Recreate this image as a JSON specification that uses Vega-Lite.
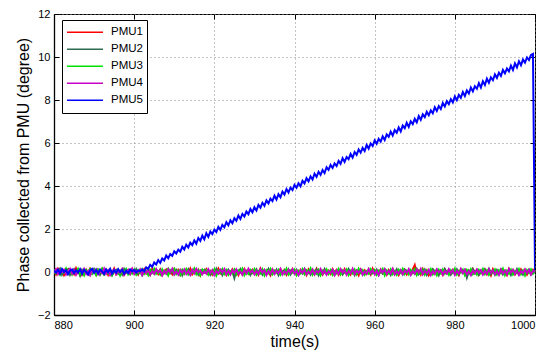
{
"$schema":"https://vega.github.io/schema/vega-lite/v6.json",
"width":481,"height":301,"autosize":"none",
"padding":{"left":54,"top":14,"right":16,"bottom":37},
"config":{"font":"Liberation Sans","view":{"stroke":"black","strokeWidth":1},
"axis":{"domainColor":"black","domainWidth":1.3,"tickColor":"black","tickSize":-5,"labelPadding":9,"labelFontSize":11,"labelColor":"black","titleFontSize":16,"titleFontWeight":"normal","titleColor":"black","gridColor":"#888","gridDash":[1,3],"gridOpacity":1},
"legend":{"orient":"none","legendX":8,"legendY":6,"strokeColor":"black","fillColor":"white","padding":4,"symbolType":"stroke","symbolSize":1296,"symbolStrokeWidth":1.5,"clipHeight":16.7,"rowPadding":0,"labelFontSize":11.5,"labelOffset":7,"labelColor":"black","title":null}},
"data":{"values":[
{"t":880,"PMU1":0.05,"PMU2":-0.08,"PMU3":0.12,"PMU4":-0.04,"PMU5":0.06},
{"t":880.5,"PMU1":-0.11,"PMU2":0.09,"PMU3":-0.06,"PMU4":0.13,"PMU5":-0.03},
{"t":881,"PMU1":0.14,"PMU2":-0.02,"PMU3":0.04,"PMU4":-0.10,"PMU5":0.11},
{"t":881.5,"PMU1":-0.03,"PMU2":0.15,"PMU3":-0.13,"PMU4":0.06,"PMU5":-0.07},
{"t":882,"PMU1":0.09,"PMU2":-0.12,"PMU3":0.10,"PMU4":-0.01,"PMU5":0.14},
{"t":882.5,"PMU1":-0.15,"PMU2":0.04,"PMU3":-0.02,"PMU4":0.11,"PMU5":0.00},
{"t":883,"PMU1":0.02,"PMU2":-0.06,"PMU3":0.16,"PMU4":-0.12,"PMU5":0.09},
{"t":883.5,"PMU1":0.12,"PMU2":0.11,"PMU3":-0.09,"PMU4":0.03,"PMU5":-0.10},
{"t":884,"PMU1":-0.07,"PMU2":-0.14,"PMU3":0.05,"PMU4":0.15,"PMU5":0.05},
{"t":884.5,"PMU1":0.06,"PMU2":0.02,"PMU3":-0.12,"PMU4":-0.07,"PMU5":0.12},
{"t":885,"PMU1":-0.10,"PMU2":0.13,"PMU3":0.08,"PMU4":0.09,"PMU5":-0.05},
{"t":885.5,"PMU1":0.17,"PMU2":-0.09,"PMU3":-0.04,"PMU4":-0.13,"PMU5":0.08},
{"t":886,"PMU1":-0.04,"PMU2":0.06,"PMU3":0.14,"PMU4":0.02,"PMU5":-0.02},
{"t":886.5,"PMU1":0.08,"PMU2":-0.17,"PMU3":-0.10,"PMU4":0.10,"PMU5":0.13},
{"t":887,"PMU1":-0.13,"PMU2":0.10,"PMU3":0.03,"PMU4":-0.06,"PMU5":-0.08},
{"t":887.5,"PMU1":0.03,"PMU2":-0.03,"PMU3":-0.15,"PMU4":0.14,"PMU5":0.10},
{"t":888,"PMU1":0.11,"PMU2":0.08,"PMU3":0.09,"PMU4":-0.09,"PMU5":0.01},
{"t":888.5,"PMU1":-0.08,"PMU2":-0.11,"PMU3":-0.01,"PMU4":0.05,"PMU5":-0.11},
{"t":889,"PMU1":0.15,"PMU2":0.05,"PMU3":0.13,"PMU4":-0.15,"PMU5":0.07},
{"t":889.5,"PMU1":-0.02,"PMU2":-0.07,"PMU3":-0.08,"PMU4":0.08,"PMU5":0.15},
{"t":890,"PMU1":0.07,"PMU2":0.14,"PMU3":0.06,"PMU4":-0.03,"PMU5":-0.04},
{"t":890.5,"PMU1":-0.12,"PMU2":-0.04,"PMU3":-0.14,"PMU4":0.12,"PMU5":0.09},
{"t":891,"PMU1":0.10,"PMU2":0.07,"PMU3":0.11,"PMU4":-0.11,"PMU5":-0.06},
{"t":891.5,"PMU1":-0.05,"PMU2":-0.13,"PMU3":-0.03,"PMU4":0.04,"PMU5":0.12},
{"t":892,"PMU1":0.13,"PMU2":0.03,"PMU3":0.15,"PMU4":-0.05,"PMU5":0.02},
{"t":892.5,"PMU1":-0.09,"PMU2":-0.10,"PMU3":-0.11,"PMU4":0.16,"PMU5":-0.09},
{"t":893,"PMU1":0.04,"PMU2":0.12,"PMU3":0.02,"PMU4":-0.08,"PMU5":0.11},
{"t":893.5,"PMU1":-0.14,"PMU2":-0.05,"PMU3":-0.07,"PMU4":0.07,"PMU5":-0.01},
{"t":894,"PMU1":0.08,"PMU2":0.09,"PMU3":0.12,"PMU4":-0.14,"PMU5":0.14},
{"t":894.5,"PMU1":-0.03,"PMU2":-0.15,"PMU3":-0.13,"PMU4":0.01,"PMU5":-0.07},
{"t":895,"PMU1":0.16,"PMU2":0.01,"PMU3":0.07,"PMU4":0.11,"PMU5":0.08},
{"t":895.5,"PMU1":-0.10,"PMU2":0.10,"PMU3":-0.05,"PMU4":-0.10,"PMU5":-0.03},
{"t":896,"PMU1":0.05,"PMU2":-0.08,"PMU3":0.10,"PMU4":0.06,"PMU5":0.13},
{"t":896.5,"PMU1":-0.06,"PMU2":0.06,"PMU3":-0.16,"PMU4":-0.04,"PMU5":0.00},
{"t":897,"PMU1":0.12,"PMU2":-0.12,"PMU3":0.04,"PMU4":0.13,"PMU5":0.10},
{"t":897.5,"PMU1":-0.13,"PMU2":0.14,"PMU3":-0.02,"PMU4":-0.12,"PMU5":-0.08},
{"t":898,"PMU1":0.01,"PMU2":-0.03,"PMU3":0.14,"PMU4":0.03,"PMU5":0.06},
{"t":898.5,"PMU1":0.10,"PMU2":0.08,"PMU3":-0.10,"PMU4":0.09,"PMU5":-0.05},
{"t":899,"PMU1":-0.08,"PMU2":-0.10,"PMU3":0.06,"PMU4":-0.06,"PMU5":0.12},
{"t":899.5,"PMU1":0.14,"PMU2":0.04,"PMU3":-0.07,"PMU4":0.14,"PMU5":0.03},
{"t":900,"PMU1":-0.04,"PMU2":-0.06,"PMU3":0.11,"PMU4":-0.09,"PMU5":0.09},
{"t":900.5,"PMU1":0.07,"PMU2":0.13,"PMU3":-0.12,"PMU4":0.05,"PMU5":-0.02},
{"t":901,"PMU1":-0.11,"PMU2":-0.09,"PMU3":0.08,"PMU4":-0.02,"PMU5":0.07},
{"t":901.5,"PMU1":0.09,"PMU2":0.02,"PMU3":-0.04,"PMU4":0.12,"PMU5":0.04},
{"t":902,"PMU1":-0.02,"PMU2":-0.14,"PMU3":0.13,"PMU4":-0.13,"PMU5":0.12},
{"t":902.5,"PMU1":0.13,"PMU2":0.07,"PMU3":-0.09,"PMU4":0.07,"PMU5":0.03},
{"t":903,"PMU1":-0.07,"PMU2":-0.04,"PMU3":0.05,"PMU4":-0.05,"PMU5":0.22},
{"t":903.5,"PMU1":0.04,"PMU2":0.11,"PMU3":-0.14,"PMU4":0.10,"PMU5":0.14},
{"t":904,"PMU1":-0.12,"PMU2":-0.12,"PMU3":0.10,"PMU4":-0.11,"PMU5":0.33},
{"t":904.5,"PMU1":0.15,"PMU2":0.05,"PMU3":-0.03,"PMU4":0.04,"PMU5":0.24},
{"t":905,"PMU1":-0.05,"PMU2":-0.07,"PMU3":0.15,"PMU4":-0.08,"PMU5":0.44},
{"t":905.5,"PMU1":0.08,"PMU2":0.12,"PMU3":-0.08,"PMU4":0.13,"PMU5":0.35},
{"t":906,"PMU1":-0.09,"PMU2":-0.02,"PMU3":0.03,"PMU4":-0.03,"PMU5":0.55},
{"t":906.5,"PMU1":0.11,"PMU2":0.09,"PMU3":-0.12,"PMU4":0.08,"PMU5":0.43},
{"t":907,"PMU1":-0.14,"PMU2":-0.13,"PMU3":0.12,"PMU4":-0.14,"PMU5":0.63},
{"t":907.5,"PMU1":0.02,"PMU2":0.03,"PMU3":-0.05,"PMU4":0.06,"PMU5":0.54},
{"t":908,"PMU1":0.12,"PMU2":-0.08,"PMU3":0.07,"PMU4":-0.07,"PMU5":0.77},
{"t":908.5,"PMU1":-0.06,"PMU2":0.14,"PMU3":-0.15,"PMU4":0.11,"PMU5":0.64},
{"t":909,"PMU1":0.06,"PMU2":-0.05,"PMU3":0.09,"PMU4":-0.01,"PMU5":0.83},
{"t":909.5,"PMU1":-0.10,"PMU2":0.06,"PMU3":-0.01,"PMU4":0.15,"PMU5":0.75},
{"t":910,"PMU1":0.14,"PMU2":-0.11,"PMU3":0.14,"PMU4":-0.10,"PMU5":0.96},
{"t":910.5,"PMU1":-0.03,"PMU2":0.10,"PMU3":-0.09,"PMU4":0.02,"PMU5":0.86},
{"t":911,"PMU1":0.09,"PMU2":-0.03,"PMU3":0.05,"PMU4":-0.12,"PMU5":1.04},
{"t":911.5,"PMU1":-0.13,"PMU2":0.08,"PMU3":-0.13,"PMU4":0.09,"PMU5":0.94},
{"t":912,"PMU1":0.05,"PMU2":-0.15,"PMU3":0.10,"PMU4":-0.04,"PMU5":1.17},
{"t":912.5,"PMU1":-0.08,"PMU2":0.04,"PMU3":-0.06,"PMU4":0.12,"PMU5":1.05},
{"t":913,"PMU1":0.11,"PMU2":-0.06,"PMU3":0.13,"PMU4":-0.09,"PMU5":1.27},
{"t":913.5,"PMU1":-0.04,"PMU2":0.12,"PMU3":-0.11,"PMU4":0.05,"PMU5":1.14},
{"t":914,"PMU1":0.16,"PMU2":-0.09,"PMU3":0.02,"PMU4":-0.13,"PMU5":1.36},
{"t":914.5,"PMU1":-0.11,"PMU2":0.07,"PMU3":-0.04,"PMU4":0.10,"PMU5":1.25},
{"t":915,"PMU1":0.03,"PMU2":-0.02,"PMU3":0.16,"PMU4":-0.06,"PMU5":1.47},
{"t":915.5,"PMU1":-0.06,"PMU2":0.13,"PMU3":-0.10,"PMU4":0.14,"PMU5":1.32},
{"t":916,"PMU1":0.10,"PMU2":-0.12,"PMU3":0.07,"PMU4":-0.02,"PMU5":1.58},
{"t":916.5,"PMU1":-0.15,"PMU2":0.05,"PMU3":-0.14,"PMU4":0.07,"PMU5":1.45},
{"t":917,"PMU1":0.07,"PMU2":-0.07,"PMU3":0.11,"PMU4":-0.11,"PMU5":1.69},
{"t":917.5,"PMU1":-0.02,"PMU2":0.10,"PMU3":-0.02,"PMU4":0.03,"PMU5":1.52},
{"t":918,"PMU1":0.13,"PMU2":-0.04,"PMU3":0.08,"PMU4":-0.08,"PMU5":1.80},
{"t":918.5,"PMU1":-0.09,"PMU2":0.09,"PMU3":-0.12,"PMU4":0.13,"PMU5":1.63},
{"t":919,"PMU1":0.04,"PMU2":-0.13,"PMU3":0.04,"PMU4":-0.05,"PMU5":1.88},
{"t":919.5,"PMU1":-0.12,"PMU2":0.03,"PMU3":-0.07,"PMU4":0.09,"PMU5":1.76},
{"t":920,"PMU1":0.08,"PMU2":-0.10,"PMU3":0.12,"PMU4":-0.14,"PMU5":1.97},
{"t":920.5,"PMU1":-0.05,"PMU2":0.15,"PMU3":-0.16,"PMU4":0.04,"PMU5":1.86},
{"t":921,"PMU1":0.15,"PMU2":-0.06,"PMU3":0.06,"PMU4":-0.07,"PMU5":2.10},
{"t":921.5,"PMU1":-0.07,"PMU2":0.08,"PMU3":-0.03,"PMU4":0.11,"PMU5":1.96},
{"t":922,"PMU1":0.02,"PMU2":-0.14,"PMU3":0.14,"PMU4":-0.03,"PMU5":2.19},
{"t":922.5,"PMU1":0.11,"PMU2":0.06,"PMU3":-0.09,"PMU4":0.14,"PMU5":2.08},
{"t":923,"PMU1":-0.13,"PMU2":-0.03,"PMU3":0.09,"PMU4":-0.10,"PMU5":2.32},
{"t":923.5,"PMU1":0.06,"PMU2":0.11,"PMU3":-0.13,"PMU4":0.06,"PMU5":2.17},
{"t":924,"PMU1":-0.04,"PMU2":-0.08,"PMU3":0.03,"PMU4":-0.12,"PMU5":2.40},
{"t":924.5,"PMU1":0.12,"PMU2":0.02,"PMU3":-0.06,"PMU4":0.08,"PMU5":2.27},
{"t":925,"PMU1":-0.09,"PMU2":-0.28,"PMU3":0.11,"PMU4":-0.04,"PMU5":2.50},
{"t":925.5,"PMU1":0.05,"PMU2":0.09,"PMU3":-0.11,"PMU4":0.12,"PMU5":2.38},
{"t":926,"PMU1":-0.14,"PMU2":-0.05,"PMU3":0.07,"PMU4":-0.09,"PMU5":2.63},
{"t":926.5,"PMU1":0.09,"PMU2":0.13,"PMU3":-0.02,"PMU4":0.02,"PMU5":2.47},
{"t":927,"PMU1":-0.02,"PMU2":-0.11,"PMU3":0.15,"PMU4":-0.13,"PMU5":2.70},
{"t":927.5,"PMU1":0.14,"PMU2":0.04,"PMU3":-0.14,"PMU4":0.10,"PMU5":2.58},
{"t":928,"PMU1":-0.08,"PMU2":-0.07,"PMU3":0.05,"PMU4":-0.06,"PMU5":2.81},
{"t":928.5,"PMU1":0.03,"PMU2":0.10,"PMU3":-0.08,"PMU4":0.15,"PMU5":2.69},
{"t":929,"PMU1":-0.11,"PMU2":-0.13,"PMU3":0.10,"PMU4":-0.02,"PMU5":2.93},
{"t":929.5,"PMU1":0.10,"PMU2":0.06,"PMU3":-0.04,"PMU4":0.07,"PMU5":2.78},
{"t":930,"PMU1":-0.06,"PMU2":-0.02,"PMU3":0.13,"PMU4":-0.11,"PMU5":3.01},
{"t":930.5,"PMU1":0.07,"PMU2":0.12,"PMU3":-0.12,"PMU4":0.05,"PMU5":2.86},
{"t":931,"PMU1":-0.12,"PMU2":-0.09,"PMU3":0.04,"PMU4":-0.08,"PMU5":3.12},
{"t":931.5,"PMU1":0.16,"PMU2":0.05,"PMU3":-0.07,"PMU4":0.13,"PMU5":2.99},
{"t":932,"PMU1":-0.03,"PMU2":-0.12,"PMU3":0.12,"PMU4":-0.03,"PMU5":3.22},
{"t":932.5,"PMU1":0.08,"PMU2":0.08,"PMU3":-0.15,"PMU4":0.09,"PMU5":3.08},
{"t":933,"PMU1":-0.10,"PMU2":-0.04,"PMU3":0.08,"PMU4":-0.14,"PMU5":3.33},
{"t":933.5,"PMU1":0.04,"PMU2":0.14,"PMU3":-0.05,"PMU4":0.04,"PMU5":3.19},
{"t":934,"PMU1":-0.15,"PMU2":-0.10,"PMU3":0.14,"PMU4":-0.07,"PMU5":3.41},
{"t":934.5,"PMU1":0.11,"PMU2":0.03,"PMU3":-0.10,"PMU4":0.11,"PMU5":3.30},
{"t":935,"PMU1":-0.05,"PMU2":-0.06,"PMU3":0.06,"PMU4":-0.10,"PMU5":3.55},
{"t":935.5,"PMU1":0.06,"PMU2":0.11,"PMU3":-0.03,"PMU4":0.06,"PMU5":3.37},
{"t":936,"PMU1":-0.09,"PMU2":-0.14,"PMU3":0.10,"PMU4":-0.05,"PMU5":3.62},
{"t":936.5,"PMU1":0.13,"PMU2":0.07,"PMU3":-0.13,"PMU4":0.14,"PMU5":3.48},
{"t":937,"PMU1":-0.01,"PMU2":-0.05,"PMU3":0.03,"PMU4":-0.12,"PMU5":3.74},
{"t":937.5,"PMU1":0.09,"PMU2":0.09,"PMU3":-0.08,"PMU4":0.03,"PMU5":3.60},
{"t":938,"PMU1":-0.13,"PMU2":-0.08,"PMU3":0.15,"PMU4":-0.08,"PMU5":3.86},
{"t":938.5,"PMU1":0.02,"PMU2":0.12,"PMU3":-0.11,"PMU4":0.10,"PMU5":3.70},
{"t":939,"PMU1":-0.07,"PMU2":-0.11,"PMU3":0.07,"PMU4":-0.03,"PMU5":3.92},
{"t":939.5,"PMU1":0.14,"PMU2":0.05,"PMU3":-0.02,"PMU4":0.12,"PMU5":3.81},
{"t":940,"PMU1":-0.04,"PMU2":-0.03,"PMU3":0.11,"PMU4":-0.09,"PMU5":4.05},
{"t":940.5,"PMU1":0.07,"PMU2":0.10,"PMU3":-0.14,"PMU4":0.06,"PMU5":3.92},
{"t":941,"PMU1":-0.11,"PMU2":-0.13,"PMU3":0.05,"PMU4":-0.13,"PMU5":4.13},
{"t":941.5,"PMU1":0.10,"PMU2":0.02,"PMU3":-0.06,"PMU4":0.08,"PMU5":3.99},
{"t":942,"PMU1":-0.06,"PMU2":-0.07,"PMU3":0.13,"PMU4":-0.04,"PMU5":4.24},
{"t":942.5,"PMU1":0.05,"PMU2":0.14,"PMU3":-0.10,"PMU4":0.13,"PMU5":4.12},
{"t":943,"PMU1":-0.14,"PMU2":-0.09,"PMU3":0.08,"PMU4":-0.10,"PMU5":4.36},
{"t":943.5,"PMU1":0.12,"PMU2":0.06,"PMU3":-0.04,"PMU4":0.02,"PMU5":4.22},
{"t":944,"PMU1":-0.02,"PMU2":-0.12,"PMU3":0.16,"PMU4":-0.07,"PMU5":4.45},
{"t":944.5,"PMU1":0.08,"PMU2":0.08,"PMU3":-0.12,"PMU4":0.11,"PMU5":4.30},
{"t":945,"PMU1":-0.10,"PMU2":-0.04,"PMU3":0.04,"PMU4":-0.11,"PMU5":4.57},
{"t":945.5,"PMU1":0.15,"PMU2":0.11,"PMU3":-0.08,"PMU4":0.05,"PMU5":4.43},
{"t":946,"PMU1":-0.05,"PMU2":-0.15,"PMU3":0.10,"PMU4":-0.02,"PMU5":4.66},
{"t":946.5,"PMU1":0.03,"PMU2":0.04,"PMU3":-0.15,"PMU4":0.14,"PMU5":4.52},
{"t":947,"PMU1":-0.12,"PMU2":-0.07,"PMU3":0.06,"PMU4":-0.08,"PMU5":4.74},
{"t":947.5,"PMU1":0.11,"PMU2":0.13,"PMU3":-0.03,"PMU4":0.07,"PMU5":4.60},
{"t":948,"PMU1":-0.07,"PMU2":-0.10,"PMU3":0.12,"PMU4":-0.12,"PMU5":4.87},
{"t":948.5,"PMU1":0.06,"PMU2":0.05,"PMU3":-0.09,"PMU4":0.03,"PMU5":4.75},
{"t":949,"PMU1":-0.09,"PMU2":-0.02,"PMU3":0.09,"PMU4":-0.05,"PMU5":4.98},
{"t":949.5,"PMU1":0.13,"PMU2":0.09,"PMU3":-0.13,"PMU4":0.10,"PMU5":4.84},
{"t":950,"PMU1":-0.03,"PMU2":-0.13,"PMU3":0.02,"PMU4":-0.14,"PMU5":5.05},
{"t":950.5,"PMU1":0.09,"PMU2":0.07,"PMU3":-0.06,"PMU4":0.06,"PMU5":4.93},
{"t":951,"PMU1":-0.13,"PMU2":-0.06,"PMU3":0.14,"PMU4":-0.09,"PMU5":5.17},
{"t":951.5,"PMU1":0.04,"PMU2":0.12,"PMU3":-0.11,"PMU4":0.12,"PMU5":5.03},
{"t":952,"PMU1":-0.08,"PMU2":-0.11,"PMU3":0.07,"PMU4":-0.03,"PMU5":5.29},
{"t":952.5,"PMU1":0.14,"PMU2":0.03,"PMU3":-0.02,"PMU4":0.09,"PMU5":5.12},
{"t":953,"PMU1":-0.04,"PMU2":-0.08,"PMU3":0.12,"PMU4":-0.13,"PMU5":5.35},
{"t":953.5,"PMU1":0.07,"PMU2":0.14,"PMU3":-0.14,"PMU4":0.04,"PMU5":5.25},
{"t":954,"PMU1":-0.11,"PMU2":-0.04,"PMU3":0.05,"PMU4":-0.06,"PMU5":5.49},
{"t":954.5,"PMU1":0.10,"PMU2":0.08,"PMU3":-0.07,"PMU4":0.15,"PMU5":5.32},
{"t":955,"PMU1":-0.06,"PMU2":-0.14,"PMU3":0.11,"PMU4":-0.10,"PMU5":5.58},
{"t":955.5,"PMU1":0.02,"PMU2":0.06,"PMU3":-0.10,"PMU4":0.07,"PMU5":5.45},
{"t":956,"PMU1":-0.15,"PMU2":-0.05,"PMU3":0.15,"PMU4":-0.04,"PMU5":5.70},
{"t":956.5,"PMU1":0.12,"PMU2":0.10,"PMU3":-0.04,"PMU4":0.11,"PMU5":5.55},
{"t":957,"PMU1":-0.02,"PMU2":-0.12,"PMU3":0.08,"PMU4":-0.12,"PMU5":5.77},
{"t":957.5,"PMU1":0.08,"PMU2":0.04,"PMU3":-0.13,"PMU4":0.02,"PMU5":5.63},
{"t":958,"PMU1":-0.09,"PMU2":-0.07,"PMU3":0.03,"PMU4":-0.08,"PMU5":5.91},
{"t":958.5,"PMU1":0.05,"PMU2":0.13,"PMU3":-0.08,"PMU4":0.13,"PMU5":5.74},
{"t":959,"PMU1":-0.12,"PMU2":-0.09,"PMU3":0.13,"PMU4":-0.05,"PMU5":5.98},
{"t":959.5,"PMU1":0.15,"PMU2":0.05,"PMU3":-0.05,"PMU4":0.08,"PMU5":5.86},
{"t":960,"PMU1":-0.05,"PMU2":-0.03,"PMU3":0.09,"PMU4":-0.11,"PMU5":6.12},
{"t":960.5,"PMU1":0.06,"PMU2":0.11,"PMU3":-0.12,"PMU4":0.05,"PMU5":5.96},
{"t":961,"PMU1":-0.10,"PMU2":-0.13,"PMU3":0.06,"PMU4":-0.14,"PMU5":6.19},
{"t":961.5,"PMU1":0.11,"PMU2":0.07,"PMU3":-0.03,"PMU4":0.10,"PMU5":6.06},
{"t":962,"PMU1":-0.07,"PMU2":-0.06,"PMU3":0.14,"PMU4":-0.02,"PMU5":6.31},
{"t":962.5,"PMU1":0.04,"PMU2":0.12,"PMU3":-0.15,"PMU4":0.12,"PMU5":6.14},
{"t":963,"PMU1":-0.13,"PMU2":-0.10,"PMU3":0.07,"PMU4":-0.09,"PMU5":6.40},
{"t":963.5,"PMU1":0.09,"PMU2":0.02,"PMU3":-0.06,"PMU4":0.06,"PMU5":6.29},
{"t":964,"PMU1":-0.03,"PMU2":-0.14,"PMU3":0.12,"PMU4":-0.06,"PMU5":6.53},
{"t":964.5,"PMU1":0.13,"PMU2":0.09,"PMU3":-0.10,"PMU4":0.14,"PMU5":6.35},
{"t":965,"PMU1":-0.08,"PMU2":-0.05,"PMU3":0.04,"PMU4":-0.12,"PMU5":6.60},
{"t":965.5,"PMU1":0.07,"PMU2":0.13,"PMU3":-0.13,"PMU4":0.03,"PMU5":6.48},
{"t":966,"PMU1":-0.14,"PMU2":-0.08,"PMU3":0.10,"PMU4":-0.07,"PMU5":6.72},
{"t":966.5,"PMU1":0.03,"PMU2":0.04,"PMU3":-0.02,"PMU4":0.09,"PMU5":6.54},
{"t":967,"PMU1":-0.06,"PMU2":-0.11,"PMU3":0.15,"PMU4":-0.10,"PMU5":6.81},
{"t":967.5,"PMU1":0.10,"PMU2":0.10,"PMU3":-0.09,"PMU4":0.07,"PMU5":6.69},
{"t":968,"PMU1":-0.11,"PMU2":-0.03,"PMU3":0.06,"PMU4":-0.04,"PMU5":6.94},
{"t":968.5,"PMU1":0.05,"PMU2":0.08,"PMU3":-0.11,"PMU4":0.13,"PMU5":6.75},
{"t":969,"PMU1":-0.04,"PMU2":-0.12,"PMU3":0.09,"PMU4":-0.13,"PMU5":7.01},
{"t":969.5,"PMU1":0.12,"PMU2":0.06,"PMU3":-0.05,"PMU4":0.05,"PMU5":6.88},
{"t":970,"PMU1":0.32,"PMU2":-0.07,"PMU3":0.13,"PMU4":-0.08,"PMU5":7.12},
{"t":970.5,"PMU1":-0.09,"PMU2":0.14,"PMU3":-0.14,"PMU4":0.11,"PMU5":6.96},
{"t":971,"PMU1":0.06,"PMU2":-0.10,"PMU3":0.04,"PMU4":-0.03,"PMU5":7.25},
{"t":971.5,"PMU1":-0.12,"PMU2":0.03,"PMU3":-0.07,"PMU4":0.14,"PMU5":7.08},
{"t":972,"PMU1":0.14,"PMU2":-0.06,"PMU3":0.11,"PMU4":-0.11,"PMU5":7.33},
{"t":972.5,"PMU1":-0.05,"PMU2":0.11,"PMU3":-0.12,"PMU4":0.06,"PMU5":7.20},
{"t":973,"PMU1":0.08,"PMU2":-0.13,"PMU3":0.07,"PMU4":-0.06,"PMU5":7.45},
{"t":973.5,"PMU1":-0.15,"PMU2":0.05,"PMU3":-0.03,"PMU4":0.10,"PMU5":7.29},
{"t":974,"PMU1":0.03,"PMU2":-0.08,"PMU3":0.14,"PMU4":-0.14,"PMU5":7.52},
{"t":974.5,"PMU1":0.11,"PMU2":0.12,"PMU3":-0.10,"PMU4":0.04,"PMU5":7.38},
{"t":975,"PMU1":-0.07,"PMU2":-0.04,"PMU3":0.05,"PMU4":-0.09,"PMU5":7.66},
{"t":975.5,"PMU1":0.09,"PMU2":0.09,"PMU3":-0.15,"PMU4":0.12,"PMU5":7.49},
{"t":976,"PMU1":-0.10,"PMU2":-0.15,"PMU3":0.10,"PMU4":-0.02,"PMU5":7.72},
{"t":976.5,"PMU1":0.05,"PMU2":0.06,"PMU3":-0.06,"PMU4":0.08,"PMU5":7.58},
{"t":977,"PMU1":-0.13,"PMU2":-0.09,"PMU3":0.12,"PMU4":-0.12,"PMU5":7.86},
{"t":977.5,"PMU1":0.13,"PMU2":0.13,"PMU3":-0.08,"PMU4":0.05,"PMU5":7.70},
{"t":978,"PMU1":-0.02,"PMU2":-0.05,"PMU3":0.03,"PMU4":-0.07,"PMU5":7.95},
{"t":978.5,"PMU1":0.07,"PMU2":0.10,"PMU3":-0.13,"PMU4":0.13,"PMU5":7.81},
{"t":979,"PMU1":-0.09,"PMU2":-0.12,"PMU3":0.08,"PMU4":-0.04,"PMU5":8.04},
{"t":979.5,"PMU1":0.10,"PMU2":0.04,"PMU3":-0.04,"PMU4":0.09,"PMU5":7.89},
{"t":980,"PMU1":-0.06,"PMU2":-0.07,"PMU3":0.15,"PMU4":-0.13,"PMU5":8.16},
{"t":980.5,"PMU1":0.04,"PMU2":0.12,"PMU3":-0.11,"PMU4":0.06,"PMU5":7.99},
{"t":981,"PMU1":-0.14,"PMU2":-0.10,"PMU3":0.06,"PMU4":-0.08,"PMU5":8.24},
{"t":981.5,"PMU1":0.12,"PMU2":0.07,"PMU3":-0.02,"PMU4":0.14,"PMU5":8.10},
{"t":982,"PMU1":-0.03,"PMU2":-0.04,"PMU3":0.11,"PMU4":-0.05,"PMU5":8.37},
{"t":982.5,"PMU1":0.08,"PMU2":0.09,"PMU3":-0.14,"PMU4":0.10,"PMU5":8.19},
{"t":983,"PMU1":-0.11,"PMU2":-0.26,"PMU3":0.09,"PMU4":-0.11,"PMU5":8.44},
{"t":983.5,"PMU1":0.06,"PMU2":0.05,"PMU3":-0.07,"PMU4":0.03,"PMU5":8.30},
{"t":984,"PMU1":-0.08,"PMU2":-0.11,"PMU3":0.13,"PMU4":-0.14,"PMU5":8.58},
{"t":984.5,"PMU1":0.14,"PMU2":0.13,"PMU3":-0.10,"PMU4":0.07,"PMU5":8.40},
{"t":985,"PMU1":-0.04,"PMU2":-0.06,"PMU3":0.04,"PMU4":-0.06,"PMU5":8.64},
{"t":985.5,"PMU1":0.09,"PMU2":0.08,"PMU3":-0.12,"PMU4":0.12,"PMU5":8.52},
{"t":986,"PMU1":-0.12,"PMU2":-0.13,"PMU3":0.10,"PMU4":-0.03,"PMU5":8.78},
{"t":986.5,"PMU1":0.03,"PMU2":0.03,"PMU3":-0.05,"PMU4":0.09,"PMU5":8.58},
{"t":987,"PMU1":-0.07,"PMU2":-0.08,"PMU3":0.14,"PMU4":-0.12,"PMU5":8.87},
{"t":987.5,"PMU1":0.11,"PMU2":0.11,"PMU3":-0.09,"PMU4":0.05,"PMU5":8.70},
{"t":988,"PMU1":-0.10,"PMU2":-0.05,"PMU3":0.07,"PMU4":-0.09,"PMU5":8.99},
{"t":988.5,"PMU1":0.05,"PMU2":0.14,"PMU3":-0.13,"PMU4":0.13,"PMU5":8.80},
{"t":989,"PMU1":-0.15,"PMU2":-0.09,"PMU3":0.05,"PMU4":-0.04,"PMU5":9.05},
{"t":989.5,"PMU1":0.13,"PMU2":0.06,"PMU3":-0.03,"PMU4":0.08,"PMU5":8.92},
{"t":990,"PMU1":-0.02,"PMU2":-0.12,"PMU3":0.12,"PMU4":-0.10,"PMU5":9.19},
{"t":990.5,"PMU1":0.07,"PMU2":0.09,"PMU3":-0.11,"PMU4":0.04,"PMU5":9.03},
{"t":991,"PMU1":-0.09,"PMU2":-0.04,"PMU3":0.08,"PMU4":-0.13,"PMU5":9.27},
{"t":991.5,"PMU1":0.10,"PMU2":0.12,"PMU3":-0.06,"PMU4":0.11,"PMU5":9.12},
{"t":992,"PMU1":-0.05,"PMU2":-0.11,"PMU3":0.15,"PMU4":-0.07,"PMU5":9.40},
{"t":992.5,"PMU1":0.06,"PMU2":0.04,"PMU3":-0.14,"PMU4":0.06,"PMU5":9.24},
{"t":993,"PMU1":-0.13,"PMU2":-0.07,"PMU3":0.06,"PMU4":-0.11,"PMU5":9.46},
{"t":993.5,"PMU1":0.14,"PMU2":0.10,"PMU3":-0.08,"PMU4":0.14,"PMU5":9.33},
{"t":994,"PMU1":-0.03,"PMU2":-0.14,"PMU3":0.11,"PMU4":-0.02,"PMU5":9.60},
{"t":994.5,"PMU1":0.09,"PMU2":0.07,"PMU3":-0.12,"PMU4":0.10,"PMU5":9.40},
{"t":995,"PMU1":-0.11,"PMU2":-0.06,"PMU3":0.04,"PMU4":-0.09,"PMU5":9.70},
{"t":995.5,"PMU1":0.04,"PMU2":0.13,"PMU3":-0.05,"PMU4":0.07,"PMU5":9.52},
{"t":996,"PMU1":-0.08,"PMU2":-0.09,"PMU3":0.13,"PMU4":-0.14,"PMU5":9.80},
{"t":996.5,"PMU1":0.12,"PMU2":0.05,"PMU3":-0.10,"PMU4":0.04,"PMU5":9.62},
{"t":997,"PMU1":-0.06,"PMU2":-0.12,"PMU3":0.07,"PMU4":-0.06,"PMU5":9.88},
{"t":997.5,"PMU1":0.08,"PMU2":0.08,"PMU3":-0.15,"PMU4":0.12,"PMU5":9.74},
{"t":998,"PMU1":-0.12,"PMU2":-0.03,"PMU3":0.09,"PMU4":-0.05,"PMU5":9.98},
{"t":998.5,"PMU1":0.05,"PMU2":0.11,"PMU3":-0.04,"PMU4":0.09,"PMU5":9.86},
{"t":999,"PMU1":-0.04,"PMU2":-0.10,"PMU3":0.12,"PMU4":-0.12,"PMU5":10.09},
{"t":999.5,"PMU1":0.10,"PMU2":0.06,"PMU3":-0.08,"PMU4":0.05,"PMU5":10.14},
{"t":1000,"PMU1":-0.03,"PMU2":-0.05,"PMU3":0.06,"PMU4":0.02,"PMU5":0.08}
]},
"transform":[{"fold":["PMU1","PMU2","PMU3","PMU4","PMU5"],"as":["series","value"]}],
"layer":[
{"mark":{"type":"line","strokeWidth":2,"clip":true},
"encoding":{
"x":{"field":"t","type":"quantitative","scale":{"domain":[880,1000],"nice":false,"zero":false},"axis":{"values":[880,900,920,940,960,980,1000],"labelExpr":"'' + datum.value","grid":true,"title":"time(s)","titlePadding":3}},
"y":{"field":"value","type":"quantitative","scale":{"domain":[-2,12],"nice":false,"zero":false},"axis":{"values":[-2,0,2,4,6,8,10,12],"grid":true,"title":"Phase collected from PMU (degree)","titlePadding":6}},
"color":{"field":"series","type":"nominal","scale":{"domain":["PMU1","PMU2","PMU3","PMU4","PMU5"],"range":["#ff0000","#2e6b50","#00e000","#c800c8","#0000ff"]}}}},
{"mark":{"type":"line","opacity":0,"clip":true},
"encoding":{
"x":{"field":"t","type":"quantitative","axis":{"orient":"top","values":[880,900,920,940,960,980,1000],"labels":false,"grid":false,"domain":false,"title":null}},
"y":{"field":"value","type":"quantitative","axis":{"orient":"right","values":[-2,0,2,4,6,8,10,12],"labels":false,"grid":false,"domain":false,"title":null}},
"detail":{"field":"series"}}}
],
"resolve":{"axis":{"x":"independent","y":"independent"}}
}
